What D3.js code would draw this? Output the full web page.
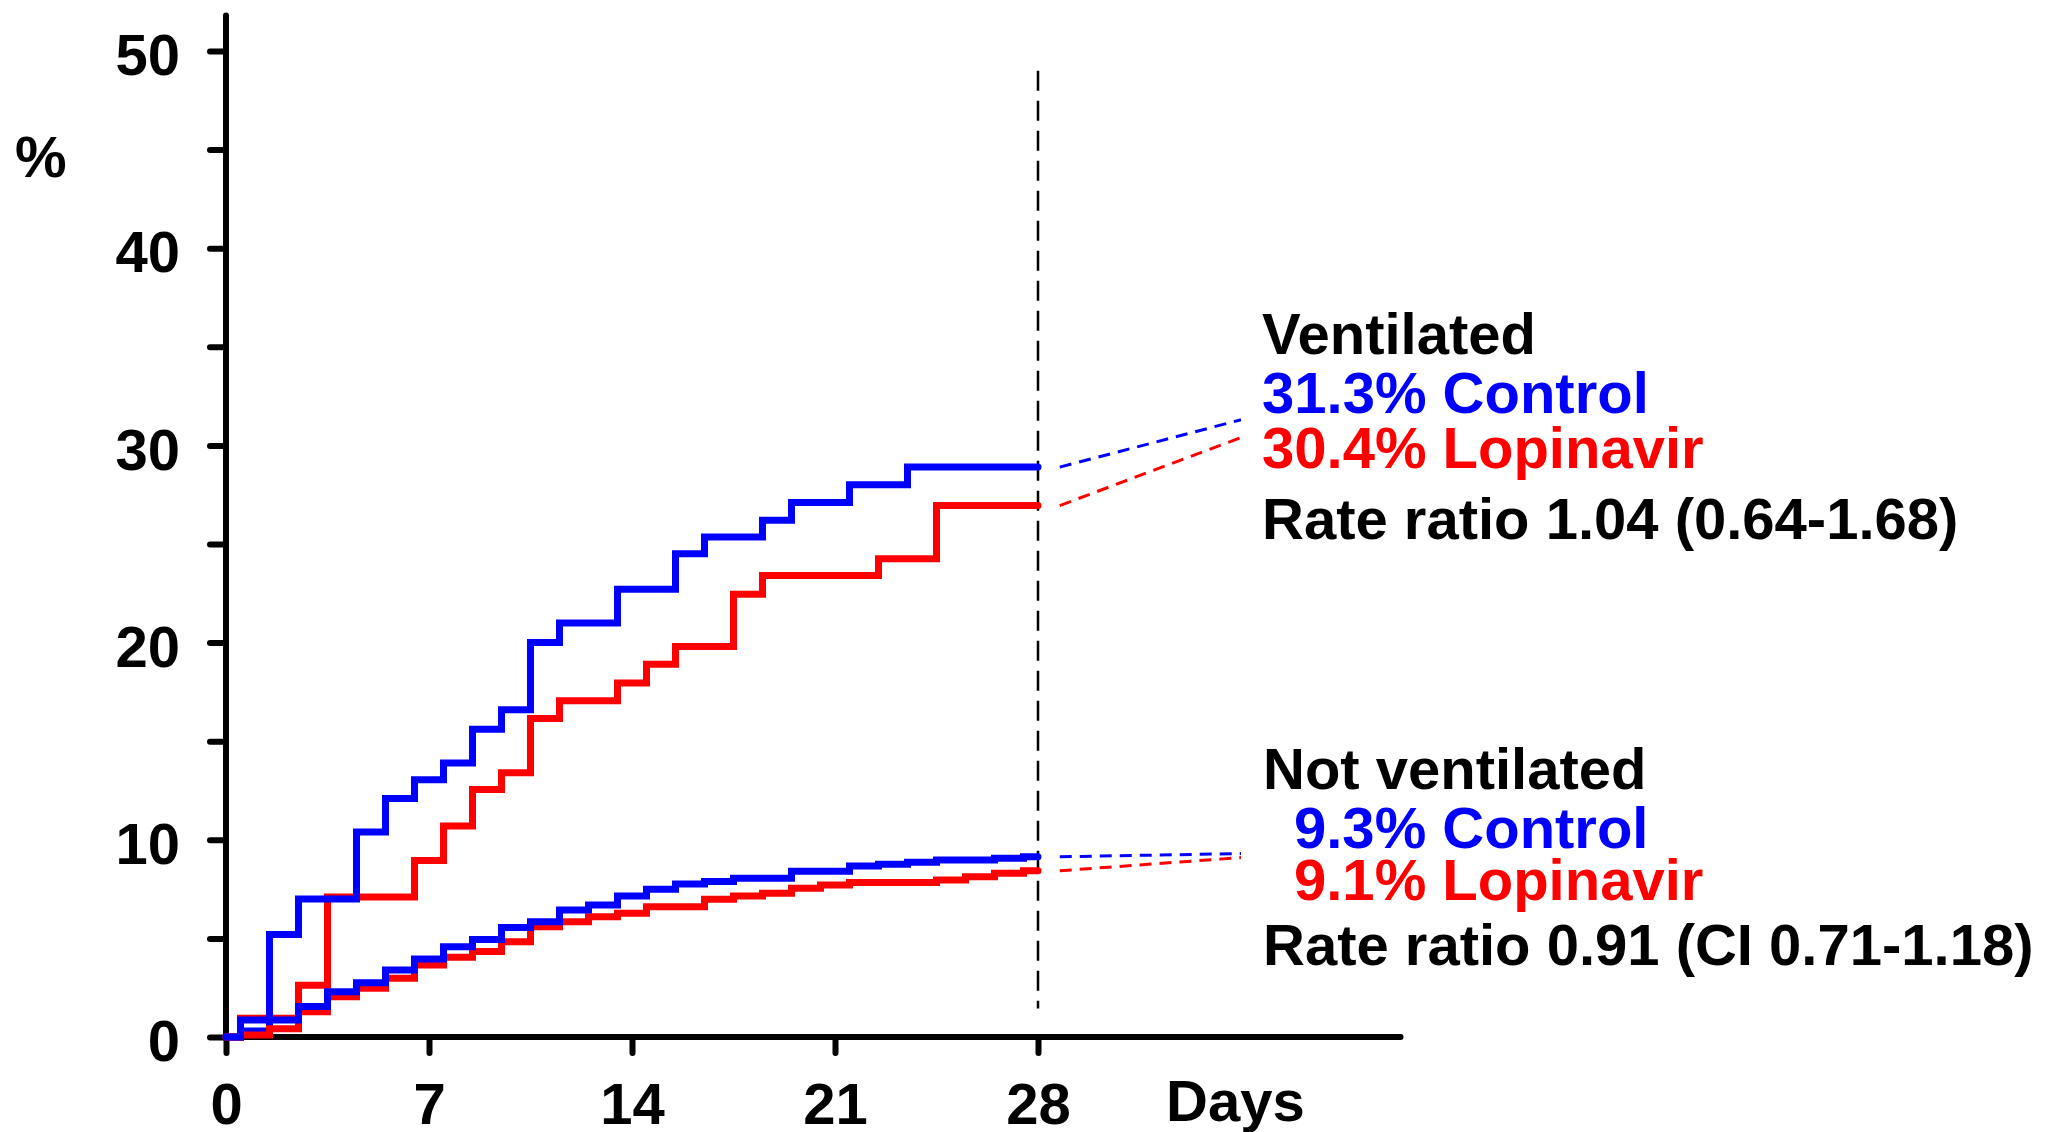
<!DOCTYPE html>
<html><head><meta charset="utf-8">
<script src="https://cdn.jsdelivr.net/npm/d3@7"></script>
<style>
html,body{margin:0;padding:0;background:#fff;}
svg text{font-family:"Liberation Sans",Arial,Helvetica,sans-serif;font-weight:bold;}
</style>
</head><body>
<svg id="chart" width="2055" height="1132"></svg>
<script>
// ---- data: [day, cumulative %] change points (step after) ----
const ventControl = [[0,0],[0.5,0.3],[1.5,5.2],[2.5,7.0],[4.5,10.4],[5.5,12.1],[6.5,13.05],[7.5,13.9],[8.5,15.6],[9.5,16.6],[10.5,20.0],[11.5,21.0],[13.5,22.7],[15.5,24.5],[16.5,25.35],[18.5,26.2],[19.5,27.1],[21.5,28.0],[23.5,28.9],[28,28.9]];
const ventLopinavir = [[0,0],[0.5,0.95],[2.5,2.62],[3.5,7.1],[6.5,8.95],[7.5,10.7],[8.5,12.55],[9.5,13.4],[10.5,16.15],[11.5,17.05],[13.5,17.95],[14.5,18.9],[15.5,19.8],[17.5,22.45],[18.5,23.4],[22.5,24.25],[24.5,26.95],[28,26.95]];
const notVentControl = [[0,0],[0.5,0.86],[2.5,1.55],[3.5,2.3],[4.5,2.75],[5.5,3.4],[6.5,3.95],[7.5,4.58],[8.5,4.95],[9.5,5.55],[10.5,5.85],[11.5,6.44],[12.5,6.69],[13.5,7.15],[14.5,7.49],[15.5,7.76],[16.5,7.88],[17.5,8.05],[19.5,8.4],[21.5,8.67],[22.5,8.76],[23.5,8.86],[24.5,8.98],[26.5,9.06],[27.5,9.14],[28,9.14]];
const notVentLopinavir = [[0,0],[0.5,0.1],[1.5,0.42],[2.5,1.28],[3.5,2.04],[4.5,2.47],[5.5,2.98],[6.5,3.65],[7.5,4.05],[8.5,4.33],[9.5,4.83],[10.5,5.59],[11.5,5.85],[12.5,6.1],[13.5,6.27],[14.5,6.61],[16.5,6.98],[17.5,7.15],[18.5,7.29],[19.5,7.54],[20.5,7.71],[21.5,7.84],[24.5,7.96],[25.5,8.13],[26.5,8.3],[27.5,8.43],[28,8.43]];

const xTicks = [0,7,14,21,28];
const yTicks = [0,5,10,15,20,25,30,35,40,45,50];
const yLabelTicks = [0,10,20,30,40,50];

const ventTexts = ["Ventilated","31.3% Control","30.4% Lopinavir","Rate ratio 1.04 (0.64-1.68)"];
const notVentTexts = ["Not ventilated","9.3% Control","9.1% Lopinavir","Rate ratio 0.91 (CI 0.71-1.18)"];
const ventRates = [31.3, 30.4];      // control, lopinavir at 28 days
const notVentRates = [9.3, 9.1];
const xLabel = "Days";
const yLabel = "%";

// ---- layout ----
const BLUE = "#0000ff", RED = "#ff0000";
const svg = d3.select("#chart");
const x = d3.scaleLinear().domain([0,28]).range([226,1038]);
const y = d3.scaleLinear().domain([0,50]).range([1037,51]);
const FS = 58;

// axes lines
svg.append("line").attr("x1",x(0)).attr("x2",x(40.5)).attr("y1",y(0)).attr("y2",y(0))
  .attr("stroke","#000").attr("stroke-width",6).attr("stroke-linecap","round");
svg.append("line").attr("x1",x(0)).attr("x2",x(0)).attr("y1",y(0)).attr("y2",y(51.8))
  .attr("stroke","#000").attr("stroke-width",6).attr("stroke-linecap","round");

// y axis via d3
const yAxis = d3.axisLeft(y).tickValues(yTicks).tickSize(16).tickPadding(30)
  .tickFormat(d => yLabelTicks.includes(d) ? String(d) : "");
const gy = svg.append("g").attr("transform",`translate(${x(0)},0)`).call(yAxis);
gy.select(".domain").remove();
gy.selectAll(".tick line").attr("stroke","#000").attr("stroke-width",6).attr("stroke-linecap","round");
gy.selectAll(".tick text").attr("font-size",FS).attr("fill","#000").attr("dy","0.41em")
  .style("font-family",'"Liberation Sans",Arial,sans-serif').style("font-weight","bold");

// x axis via d3
const xAxis = d3.axisBottom(x).tickValues(xTicks).tickSize(16).tickPadding(10).tickFormat(d => String(d));
const gx = svg.append("g").attr("transform",`translate(0,${y(0)})`).call(xAxis);
gx.select(".domain").remove();
gx.selectAll(".tick line").attr("stroke","#000").attr("stroke-width",6).attr("stroke-linecap","round");
gx.selectAll(".tick text").attr("font-size",FS).attr("fill","#000").attr("dy",0).attr("y",87)
  .style("font-family",'"Liberation Sans",Arial,sans-serif').style("font-weight","bold");

// axis titles
svg.append("text").attr("x",1166).attr("y",1121).attr("font-size",FS).attr("fill","#000").text(xLabel);
svg.append("text").attr("x",15).attr("y",177).attr("font-size",FS).attr("fill","#000").text(yLabel);

// vertical dashed line at day 28
svg.append("line").attr("x1",x(28)).attr("x2",x(28)).attr("y1",y(49)).attr("y2",y(1.45))
  .attr("stroke","#000").attr("stroke-width",2.5).attr("stroke-dasharray","20,10");

// KM step curves
const line = d3.line().x(d => x(d[0])).y(d => y(d[1])).curve(d3.curveStepAfter);
const series = [
  {data: ventLopinavir, color: RED},
  {data: ventControl, color: BLUE},
  {data: notVentLopinavir, color: RED},
  {data: notVentControl, color: BLUE}
];
svg.selectAll("path.km").data(series).enter().append("path").attr("class","km")
  .attr("d", d => line(d.data)).attr("fill","none").attr("stroke", d => d.color)
  .attr("stroke-width",7).attr("stroke-linecap","round").attr("stroke-linejoin","miter");

// dashed connectors from 28-day curve end to reported rate
const connectors = [
  {from: ventControl[ventControl.length-1][1], to: ventRates[0], color: BLUE},
  {from: ventLopinavir[ventLopinavir.length-1][1], to: ventRates[1], color: RED},
  {from: notVentControl[notVentControl.length-1][1], to: notVentRates[0], color: BLUE},
  {from: notVentLopinavir[notVentLopinavir.length-1][1], to: notVentRates[1], color: RED}
];
svg.selectAll("line.conn").data(connectors).enter().append("line").attr("class","conn")
  .attr("x1", x(28.75)).attr("x2", x(35)).attr("y1", d => y(d.from)).attr("y2", d => y(d.to))
  .attr("stroke", d => d.color).attr("stroke-width",3).attr("stroke-dasharray","12,8");

// annotation text blocks
const colors = ["#000", BLUE, RED, "#000"];
function block(texts, xs, baselines){
  texts.forEach((t,i) => {
    svg.append("text").attr("x", xs[i]).attr("y", baselines[i]).attr("font-size",FS)
      .attr("fill", colors[i]).text(t);
  });
}
block(ventTexts, [1262,1262,1262,1262], [354,413,468,539]);
block(notVentTexts, [1263,1294,1294,1263], [789,848,900,965]);
</script>
</body></html>
